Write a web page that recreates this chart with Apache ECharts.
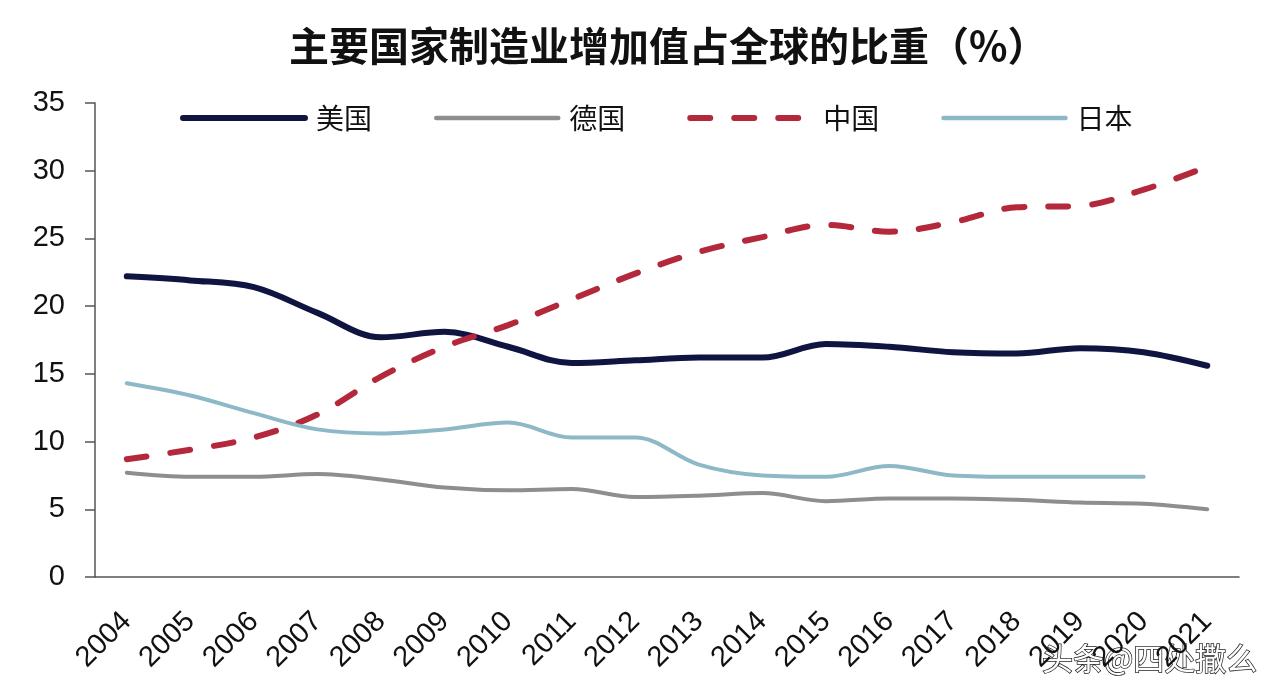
<!DOCTYPE html>
<html>
<head>
<meta charset="utf-8">
<script src="https://cdn.jsdelivr.net/npm/echarts@6/dist/echarts.min.js"></script>
<style>
  html, body { margin: 0; padding: 0; background: #fff; }
  #chart { width: 1280px; height: 699px; }
</style>
</head>
<body>
<div id="chart"></div>
<script>
const years = ["2004", "2005", "2006", "2007", "2008", "2009", "2010", "2011", "2012",
  "2013", "2014", "2015", "2016", "2017", "2018", "2019", "2020", "2021"];

const usa = [22.2, 21.9, 21.4, 19.5, 17.7, 18.1, 17.0, 15.8, 16.0,
  16.2, 16.2, 17.2, 17.0, 16.6, 16.5, 16.9, 16.6, 15.6];
const germany = [7.7, 7.4, 7.4, 7.6, 7.2, 6.6, 6.4, 6.5, 5.9,
  6.0, 6.2, 5.6, 5.8, 5.8, 5.7, 5.5, 5.4, 5.0];
const china = [8.7, 9.4, 10.3, 12.0, 14.8, 17.0, 18.6, 20.5, 22.4,
  24.0, 25.1, 26.0, 25.5, 26.2, 27.3, 27.4, 28.6, 30.3];
const japan = [14.3, 13.4, 12.1, 10.9, 10.6, 10.9, 11.4, 10.3, 10.3,
  8.3, 7.5, 7.4, 8.2, 7.5, 7.4, 7.4, 7.4, null];

const chart = echarts.init(document.getElementById("chart"));

const cjk = '"Noto Sans CJK SC", sans-serif';
const colors = { usa: "#0f1440", germany: "#8e8e8e", china: "#b3283a", japan: "#8db8c8" };

chart.setOption({
  animation: false,
  backgroundColor: "#fff",
  title: {
    text: "主要国家制造业增加值占全球的比重（%）",
    left: 284,
    top: 21,
    textStyle: { fontFamily: cjk, fontWeight: "bold", fontSize: 40, color: "#111" },
  },
  legend: {
    left: 180,
    top: 104,
    padding: 0,
    itemWidth: 122,
    itemHeight: 28,
    itemGap: 62,
    itemStyle: { opacity: 0 },
    textStyle: { fontFamily: cjk, fontSize: 28, color: "#111", padding: [0, 0, 0, 6] },
    data: [
      { name: "美国", lineStyle: { width: 6, color: colors.usa } },
      { name: "德国", lineStyle: { width: 4.5, color: colors.germany } },
      { name: "中国", lineStyle: { width: 6, color: colors.china, type: [20, 24] } },
      { name: "日本", lineStyle: { width: 4.5, color: colors.japan } },
    ],
  },
  grid: { left: 95, right: 41, top: 103, bottom: 122 },
  xAxis: {
    type: "category",
    data: years,
    boundaryGap: true,
    axisLine: { lineStyle: { color: "#555", width: 1.5 } },
    axisTick: { length: 9, lineStyle: { color: "#555", width: 1.5 } },
    axisLabel: {
      rotate: 45,
      interval: 0,
      margin: 40,
      fontFamily: "Liberation Sans, Arial, sans-serif",
      fontSize: 29,
      color: "#111",
    },
  },
  yAxis: {
    type: "value",
    min: 0,
    max: 35,
    interval: 5,
    axisLine: { show: true, lineStyle: { color: "#555", width: 1.5 } },
    axisTick: { show: true, length: 10, lineStyle: { color: "#555", width: 1.5 } },
    axisLabel: {
      margin: 30,
      fontFamily: "Liberation Sans, Arial, sans-serif",
      fontSize: 29,
      color: "#111",
    },
    splitLine: { show: false },
  },
  graphic: [
    {
      type: "text",
      right: 22,
      top: 642,
      style: {
        text: "头条@四处撒么",
        fontFamily: cjk,
        fontSize: 31,
        fill: "#fff",
        stroke: "#222",
        lineWidth: 1.5,
      },
    },
  ],
  series: [
    {
      name: "美国",
      type: "line",
      data: usa,
      smooth: 0.35,
      symbol: "none",
      lineStyle: { color: colors.usa, width: 6, cap: "round" },
      itemStyle: { color: colors.usa },
    },
    {
      name: "德国",
      type: "line",
      data: germany,
      smooth: 0.35,
      symbol: "none",
      lineStyle: { color: colors.germany, width: 4, cap: "round" },
      itemStyle: { color: colors.germany },
    },
    {
      name: "中国",
      type: "line",
      data: china,
      smooth: 0.35,
      symbol: "none",
      lineStyle: { color: colors.china, width: 6, type: [20, 24], cap: "round" },
      itemStyle: { color: colors.china },
    },
    {
      name: "日本",
      type: "line",
      data: japan,
      smooth: 0.35,
      symbol: "none",
      lineStyle: { color: colors.japan, width: 4, cap: "round" },
      itemStyle: { color: colors.japan },
    },
  ],
});
</script>
</body>
</html>
